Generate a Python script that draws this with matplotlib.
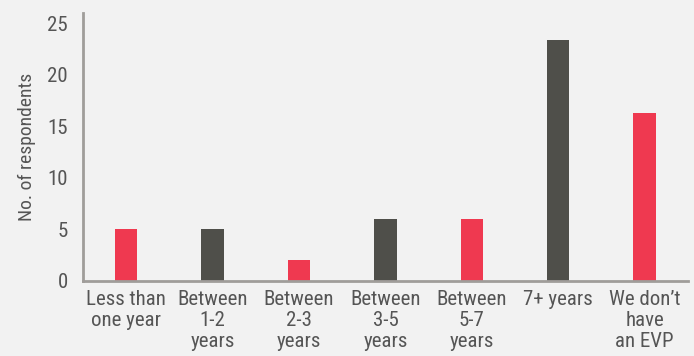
import matplotlib
matplotlib.use("Agg")
import matplotlib.pyplot as plt

# data
categories = ["Less than\none year", "Between\n1-2\nyears", "Between\n2-3\nyears",
              "Between\n3-5\nyears", "Between\n5-7\nyears", "7+ years",
              "We don\u2019t\nhave\nan EVP"]
respondents = [5, 5, 2, 6, 6, 23.4, 16.3]
bar_colors = ["#ef3950", "#4f4f4a", "#ef3950", "#4f4f4a", "#ef3950", "#4f4f4a", "#ef3950"]
y_ticks = [0, 5, 10, 15, 20, 25]

plt.rcParams["font.family"] = ["Roboto Condensed", "Archivo Narrow", "DejaVu Sans"]

bg = "#f2f2f2"
text_color = "#555555"

fig = plt.figure(figsize=(6.94, 3.56), dpi=100, facecolor=bg)
ax = fig.add_axes([0.1196, 0.212, 0.8714, 0.7515], facecolor=bg)

x = range(len(categories))
ax.bar(x, respondents, width=0.26, color=bar_colors)

ax.set_xlim(-0.5, len(categories) - 0.5)
ax.set_ylim(0, 26)
ax.set_yticks(y_ticks)
ax.set_xticks(list(x))
ax.set_xticklabels(categories, linespacing=1.12)

for side in ["top", "right"]:
    ax.spines[side].set_visible(False)
for side in ["left", "bottom"]:
    ax.spines[side].set_color("#a09d9a")
    ax.spines[side].set_linewidth(2)

ax.tick_params(axis="both", length=0, labelsize=15, colors=text_color)
ax.tick_params(axis="y", pad=11)
ax.tick_params(axis="x", pad=7)
ax.set_ylabel("No. of respondents", fontsize=14, color=text_color, labelpad=8)

fig.savefig("out.png", dpi=100, facecolor=bg)
